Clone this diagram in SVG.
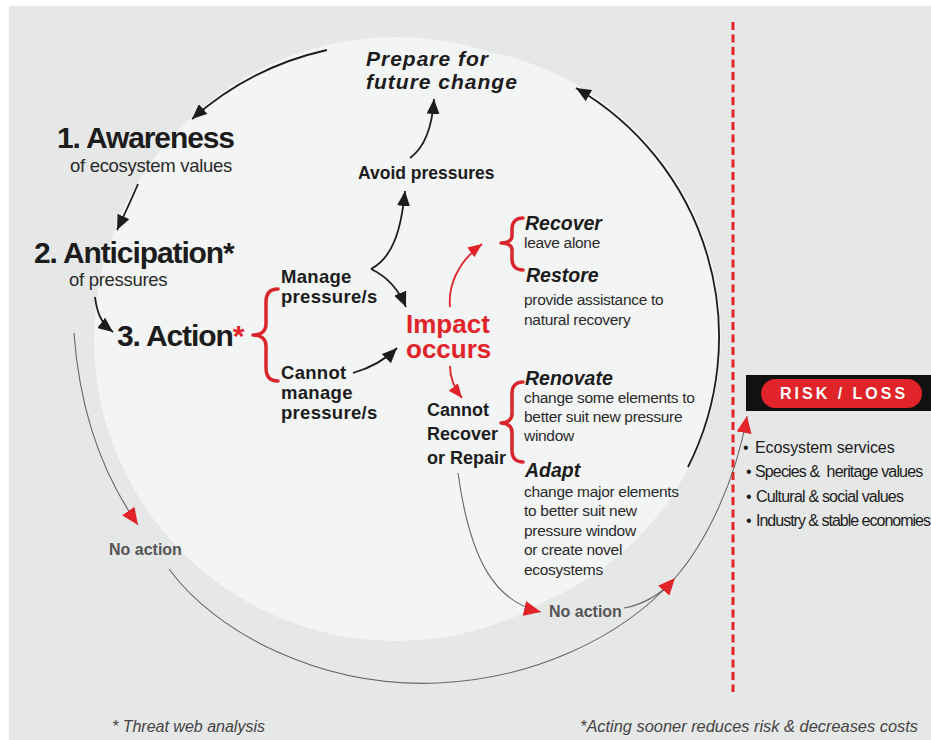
<svg xmlns="http://www.w3.org/2000/svg" width="931" height="740" viewBox="0 0 931 740">
<defs>
<style>
text { font-family: "Liberation Sans", Arial, sans-serif; fill: #1c1c1c; }
.h1 { font-size: 30px; font-weight: bold; letter-spacing: -1.1px; }
.sub { font-size: 18.5px; letter-spacing: -0.3px; fill: #2a2a2a; }
.b18 { font-size: 18.5px; font-weight: bold; letter-spacing: 0.3px; }
.b17 { font-size: 17.5px; font-weight: bold; }
.b18n { font-size: 18px; font-weight: bold; }
.prep { font-size: 21px; font-weight: bold; font-style: italic; letter-spacing: 1px; }
.opt { font-size: 19.5px; font-weight: bold; font-style: italic; }
.desc { font-size: 15.5px; letter-spacing: -0.3px; fill: #2a2a2a; }
.imp { font-size: 26px; font-weight: bold; fill: #e1232a; }
.red { fill: #e1232a; }
.na { font-size: 16px; font-weight: bold; fill: #555; }
.foot { font-size: 16px; font-style: italic; fill: #444; }
.bul { font-size: 16px; fill: #1c1c1c; }
.risk { font-size: 16px; font-weight: bold; fill: #fff; letter-spacing: 3px; }
.blk { fill: none; stroke: #1c1c1c; stroke-width: 1.8; }
.redl { fill: none; stroke: #e1232a; stroke-width: 1.8; }
.thin { fill: none; stroke: #666; stroke-width: 1.1; }
.brace { fill: none; stroke: #d9262d; stroke-width: 3.5; stroke-linecap: round; stroke-linejoin: round; }
</style>
<marker id="ab" viewBox="0 0 15 13" refX="15" refY="6.5" markerWidth="15" markerHeight="13" markerUnits="userSpaceOnUse" orient="auto">
  <path d="M0,0 L15,6.5 L0,13 z" fill="#1c1c1c"/>
</marker>
<marker id="ar" viewBox="0 0 14 12" refX="14" refY="6" markerWidth="14" markerHeight="12" markerUnits="userSpaceOnUse" orient="auto">
  <path d="M0,0 L14,6 L0,12 z" fill="#e1232a"/>
</marker>
<marker id="arL" viewBox="0 0 17 15" refX="17" refY="7.5" markerWidth="17" markerHeight="15" markerUnits="userSpaceOnUse" orient="auto">
  <path d="M0,0 L17,7.5 L0,15 z" fill="#e1232a"/>
</marker>
</defs>

<!-- page and backdrop -->
<rect x="0" y="0" width="931" height="740" fill="#ffffff"/>
<rect x="9" y="6" width="922" height="734" fill="#e6e7e7"/>

<!-- light cycle disc -->
<g id="cycle-disc" fill="#f3f4f4">
  <circle cx="396" cy="339" r="302"/>
  <circle cx="432" cy="335" r="289"/>
</g>

<!-- risk boundary -->
<line x1="733" y1="22" x2="733" y2="692" stroke="#e1232a" stroke-width="3" stroke-dasharray="8 4.5"/>

<g id="connectors">
  <!-- outer black loop -->
  <path class="blk" d="M327,50 A302,302 0 0,0 192,119" marker-end="url(#ab)"/>
  <path class="blk" d="M688,467 A288,288 0 0,0 576,88" marker-end="url(#ab)"/>
  <!-- steps -->
  <path class="blk" d="M138,184 Q129,205 117,230" marker-end="url(#ab)"/>
  <path class="blk" d="M95,297 C97,312 100,322 113,332" marker-end="url(#ab)"/>
  <!-- manage fork -->
  <path class="blk" d="M371,269 C392,258 401,232 405,191" marker-end="url(#ab)"/>
  <path class="blk" d="M371,269 C386,276 398,288 406,307" marker-end="url(#ab)"/>
  <path class="blk" d="M410,158 C424,148 432,130 434,99" marker-end="url(#ab)"/>
  <path class="blk" d="M353,373 C370,368 385,360 397,348" marker-end="url(#ab)"/>
  <!-- impact outcomes -->
  <path class="redl" d="M450,307 C448,285 458,262 482,244" marker-end="url(#ar)"/>
  <path class="redl" d="M450,366 C450,378 454,388 462,398" marker-end="url(#ar)"/>
  <!-- no action paths -->
  <path class="thin" d="M74,333 Q82,445 138,525" marker-end="url(#arL)"/>
  <path class="thin" d="M458,473 C470,560 495,602 541,612" marker-end="url(#arL)"/>
  <path class="thin" d="M624,608 C646,604 661,593 672,582"/>
  <path class="thin" d="M169,569 C215,632 320,688 438,683 C530,679 620,640 675,578" marker-end="url(#arL)"/>
  <path class="thin" d="M675,578 C706,543 736,480 747,416" marker-end="url(#arL)"/>
</g>

<g id="prepare">
  <text class="prep" x="366" y="66">Prepare for</text>
  <text class="prep" x="366" y="89">future change</text>
</g>
<g id="awareness">
  <text class="h1" x="57" y="148">1. Awareness</text>
  <text class="sub" x="70" y="172">of ecosystem values</text>
</g>
<g id="anticipation">
  <text class="h1" x="34" y="263">2. Anticipation*</text>
  <text class="sub" x="69" y="286">of pressures</text>
</g>
<g id="action">
  <text class="h1" x="117" y="346">3. Action<tspan class="red">*</tspan></text>
  <path class="brace" d="M278,289 C270,289 266,293 266,302 L266,324 C266,331 261,335 253,335 C261,335 266,339 266,346 L266,368 C266,377 270,381 278,381"/>
</g>
<g id="avoid">
  <text class="b17" x="358" y="179">Avoid pressures</text>
</g>
<g id="manage">
  <text class="b18" x="281" y="283">Manage</text>
  <text class="b18" x="281" y="303">pressure/s</text>
</g>
<g id="cannot-manage">
  <text class="b18" x="281" y="379">Cannot</text>
  <text class="b18" x="281" y="399">manage</text>
  <text class="b18" x="281" y="419">pressure/s</text>
</g>
<g id="impact">
  <text class="imp" x="406" y="333">Impact</text>
  <text class="imp" x="406" y="358">occurs</text>
</g>
<g id="recover-restore">
  <path class="brace" d="M523,218 C516,218 512,222 512,229 L512,236 C512,240 508,243 501,243 C508,243 512,246 512,250 L512,259 C512,266 516,270 523,270"/>
  <text class="opt" x="525" y="230">Recover</text>
  <text class="desc" x="524" y="248">leave alone</text>
  <text class="opt" x="526" y="282">Restore</text>
  <text class="desc" x="524" y="305">provide assistance to</text>
  <text class="desc" x="524" y="325">natural recovery</text>
</g>
<g id="cannot-recover">
  <text class="b18n" x="427" y="416">Cannot</text>
  <text class="b18n" x="427" y="440">Recover</text>
  <text class="b18n" x="427" y="464">or Repair</text>
</g>
<g id="renovate-adapt">
  <path class="brace" d="M523,382 C516,382 512,386 512,393 L512,414 C512,419 508,423 501,423 C508,423 512,427 512,432 L512,451 C512,458 516,462 523,462"/>
  <text class="opt" x="525" y="385">Renovate</text>
  <text class="desc" x="524" y="403">change some elements to</text>
  <text class="desc" x="524" y="422">better suit new pressure</text>
  <text class="desc" x="524" y="441">window</text>
  <text class="opt" x="525" y="477">Adapt</text>
  <text class="desc" x="524" y="497">change major elements</text>
  <text class="desc" x="524" y="516">to better suit new</text>
  <text class="desc" x="524" y="536">pressure window</text>
  <text class="desc" x="524" y="555">or create novel</text>
  <text class="desc" x="524" y="575">ecosystems</text>
</g>
<g id="no-action-left">
  <text class="na" x="109" y="555">No action</text>
</g>
<g id="no-action-right">
  <text class="na" x="549" y="617">No action</text>
</g>
<g id="risk-loss">
  <rect x="746" y="375" width="185" height="36" fill="#111"/>
  <rect x="761" y="379" width="161" height="29" rx="14.5" fill="#e1232a"/>
  <text class="risk" x="780" y="399">RISK / LOSS</text>
</g>
<g id="risk-values">
  <text class="bul" x="743" y="453">•</text>
  <text class="bul" x="755" y="453" style="letter-spacing:-0.1px">Ecosystem services</text>
  <text class="bul" x="746" y="477">•</text>
  <text class="bul" x="755" y="477" style="letter-spacing:-0.85px" xml:space="preserve">Species &amp;  heritage values</text>
  <text class="bul" x="746" y="502">•</text>
  <text class="bul" x="756" y="502" style="letter-spacing:-0.8px">Cultural &amp; social values</text>
  <text class="bul" x="746" y="526">•</text>
  <text class="bul" x="756" y="526" style="letter-spacing:-1px">Industry &amp; stable economies</text>
</g>
<g id="footnotes">
  <text class="foot" x="112" y="732">* Threat web analysis</text>
  <text class="foot" x="580" y="732" style="font-size:16.4px">*Acting sooner reduces risk &amp; decreases costs</text>
</g>
</svg>
